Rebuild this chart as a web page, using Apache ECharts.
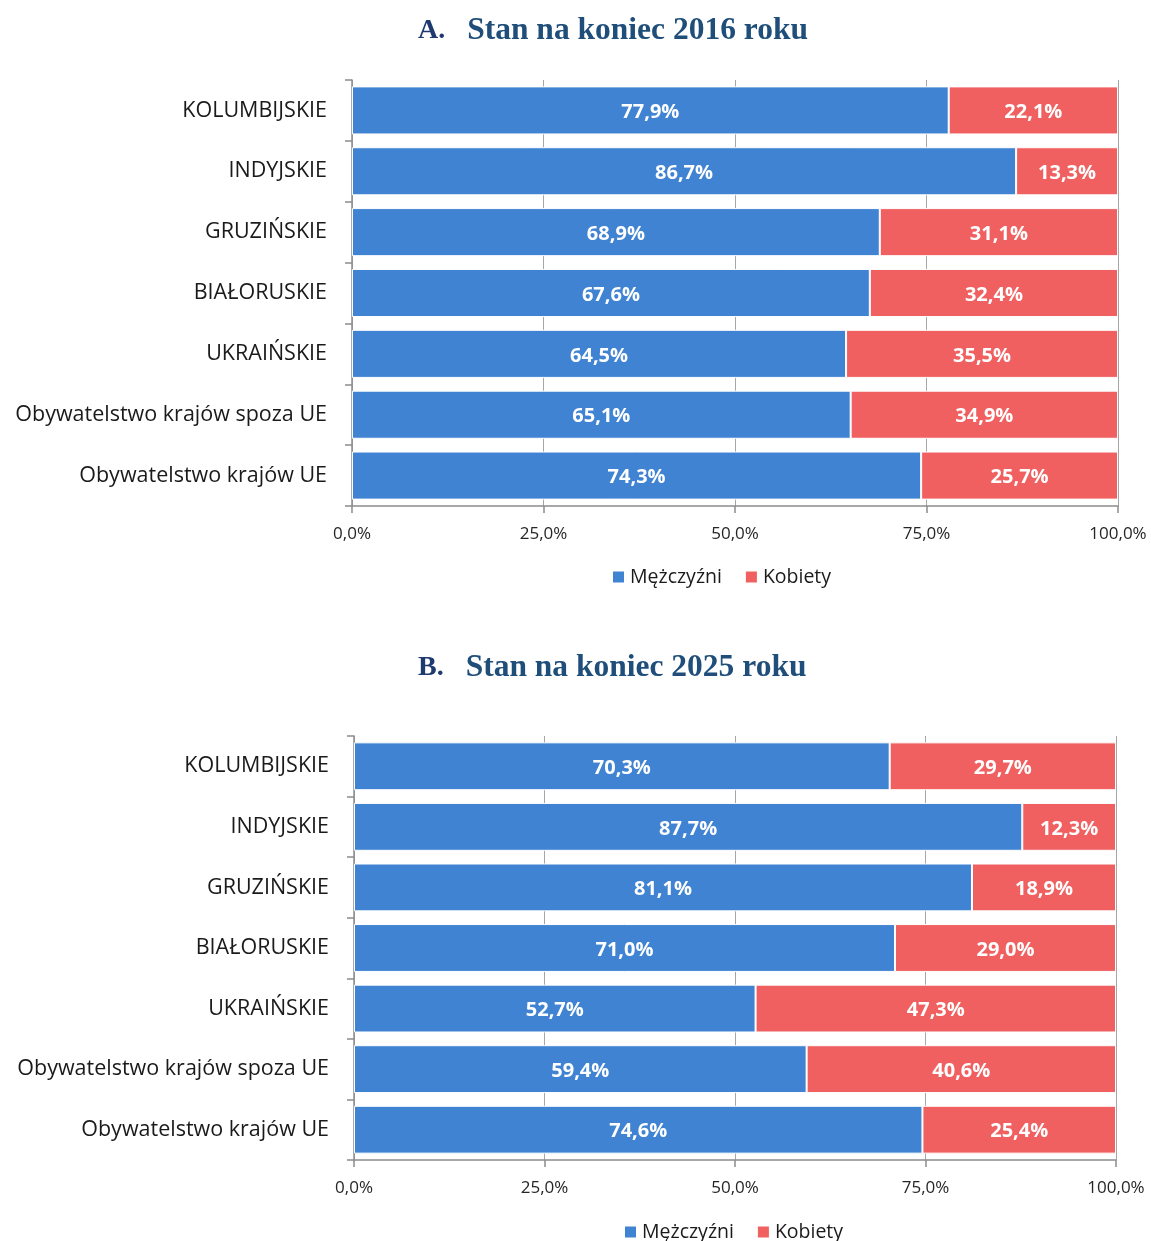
<!DOCTYPE html>
<html><head><meta charset="utf-8">
<script src="https://cdn.jsdelivr.net/npm/echarts@6/dist/echarts.min.js"></script>
<style>html,body{margin:0;padding:0;background:#fff}#c{width:1151px;height:1241px}</style>
</head><body><div id="c"></div>
<script>
const categories = ["KOLUMBIJSKIE","INDYJSKIE","GRUZIŃSKIE","BIAŁORUSKIE","UKRAIŃSKIE","Obywatelstwo krajów spoza UE","Obywatelstwo krajów UE"];
const men2016 = [77.9,86.7,68.9,67.6,64.5,65.1,74.3];
const women2016 = [22.1,13.3,31.1,32.4,35.5,34.9,25.7];
const men2025 = [70.3,87.7,81.1,71.0,52.7,59.4,74.6];
const women2025 = [29.7,12.3,18.9,29.0,47.3,40.6,25.4];
const seriesNames = ["Mężczyźni","Kobiety"];
const titleA = ["A.","Stan na koniec 2016 roku"];
const titleB = ["B.","Stan na koniec 2025 roku"];

const BLUE = "#3F83D2", RED = "#F06060";
const SANS = "'Open Sans', 'Noto Sans', sans-serif";
const SERIF = "'Liberation Serif', 'DejaVu Serif', serif";
const fmt = v => v.toFixed(1).replace('.', ',') + '%';
const chart = echarts.init(document.getElementById('c'));

function titleObj(t, top){
  return {text: '{a|' + t[0] + '}{g|}{b|' + t[1] + '}', left: 413, top: top,
    textStyle: {rich: {
      a: {fontFamily: SERIF, fontWeight: 'bold', fontSize: 28, color: '#1F3A6E'},
      g: {width: 22},
      b: {fontFamily: SERIF, fontWeight: 'bold', fontSize: 31.5, color: '#1E4E79'}
    }}};
}
const grids = [
  {left: 352, right: 33, top: 80, height: 426},
  {left: 354, right: 35, top: 736, height: 424}
];
function xAx(i){
  return {type: 'value', gridIndex: i, min: 0, max: 100, interval: 25,
    axisLine: {show: true, lineStyle: {color: '#8c8c8c', width: 1.5}},
    axisTick: {show: true, length: 7, lineStyle: {color: '#8c8c8c', width: 1.5}},
    splitLine: {show: true, lineStyle: {color: '#a6a6a6', width: 1}},
    axisLabel: {formatter: v => fmt(v), fontFamily: SANS, fontSize: 17, color: '#262626', margin: 20}};
}
function yAx(i){
  return {type: 'category', gridIndex: i, data: categories, inverse: true,
    axisLine: {show: true, lineStyle: {color: '#8c8c8c', width: 1.5}},
    axisTick: {show: true, length: 7, lineStyle: {color: '#8c8c8c', width: 1.5}},
    axisLabel: {fontFamily: SANS, fontSize: 21.5, color: '#1a1a1a', margin: 25}};
}
function ser(name, data, color, i){
  return {name: name, type: 'bar', stack: 's' + i, xAxisIndex: i, yAxisIndex: i, data: data,
    barCategoryGap: '21%',
    itemStyle: {color: color, borderColor: '#fff', borderWidth: 1},
    label: {show: true, position: 'inside', formatter: p => fmt(p.value), offset: [0, 2],
      fontFamily: SANS, fontWeight: 'bold', fontSize: 20, color: '#fff'}};
}
const legendCommon = {itemWidth: 13, itemHeight: 13, itemGap: 22, icon: 'rect',
  textStyle: {fontFamily: SANS, fontSize: 19.5, color: '#1a1a1a'}, data: seriesNames};
chart.setOption({
  animation: false,
  title: [titleObj(titleA, 10), titleObj(titleB, 647)],
  grid: grids,
  xAxis: [xAx(0), xAx(1)],
  yAxis: [yAx(0), yAx(1)],
  legend: [Object.assign({left: 606, top: 562}, legendCommon),
           Object.assign({left: 618, top: 1217}, legendCommon)],
  series: [ser(seriesNames[0], men2016, BLUE, 0), ser(seriesNames[1], women2016, RED, 0),
           ser(seriesNames[0], men2025, BLUE, 1), ser(seriesNames[1], women2025, RED, 1)]
});
</script></body></html>
